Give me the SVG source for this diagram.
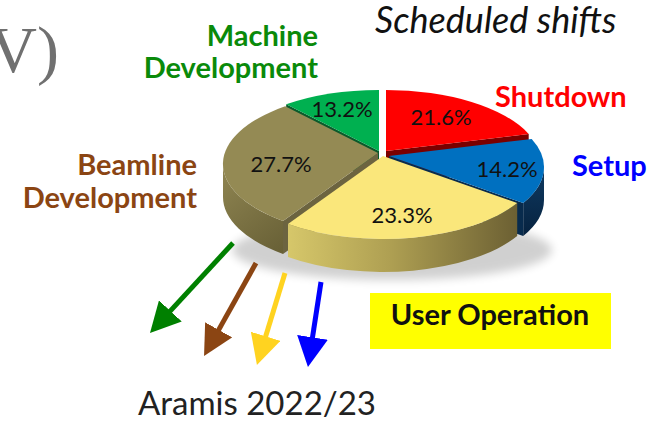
<svg xmlns="http://www.w3.org/2000/svg" width="652" height="424" viewBox="0 0 652 424">
  <defs>
    <style>
      .pct { font-family: Lato, "Liberation Sans", sans-serif; font-size: 22px; fill: #111; text-anchor: middle; }
      .lbl { font-family: Lato, "Liberation Sans", sans-serif; font-weight: bold; font-size: 29px; }
      .arrow { fill: none; stroke-width: 5; stroke-linecap: butt; }
    </style>
    <linearGradient id="yellowWall" x1="288" y1="0" x2="517" y2="0" gradientUnits="userSpaceOnUse">
      <stop offset="0" stop-color="#D6C76A"/>
      <stop offset="0.45" stop-color="#AE9F52"/>
      <stop offset="1" stop-color="#6C6033"/>
    </linearGradient>
    <linearGradient id="brownWall" x1="223" y1="170" x2="285" y2="250" gradientUnits="userSpaceOnUse">
      <stop offset="0" stop-color="#8E8451"/>
      <stop offset="1" stop-color="#686036"/>
    </linearGradient>
    <linearGradient id="blueWall" x1="0" y1="167" x2="0" y2="236" gradientUnits="userSpaceOnUse">
      <stop offset="0" stop-color="#0F3A62"/>
      <stop offset="1" stop-color="#06223F"/>
    </linearGradient>
    <filter id="soft" x="-20%" y="-50%" width="140%" height="200%">
      <feGaussianBlur stdDeviation="5"/>
    </filter>
    <marker id="headGreen" viewBox="0 0 6 6.2" refX="0.4" refY="3.1" markerWidth="6" markerHeight="6.2" orient="auto">
      <path d="M0,0 L6,3.1 L0,6.2 Z" fill="#008000"/>
    </marker>
    <marker id="headBrown" viewBox="0 0 6 6.2" refX="0.4" refY="3.1" markerWidth="6" markerHeight="6.2" orient="auto">
      <path d="M0,0 L6,3.1 L0,6.2 Z" fill="#8B4513"/>
    </marker>
    <marker id="headYellow" viewBox="0 0 6 6.2" refX="0.4" refY="3.1" markerWidth="6" markerHeight="6.2" orient="auto">
      <path d="M0,0 L6,3.1 L0,6.2 Z" fill="#FFD320"/>
    </marker>
    <marker id="headBlue" viewBox="0 0 6 6.2" refX="0.4" refY="3.1" markerWidth="6" markerHeight="6.2" orient="auto">
      <path d="M0,0 L6,3.1 L0,6.2 Z" fill="#0000FF"/>
    </marker>
  </defs>

  <rect width="652" height="424" fill="#FFFFFF"/>

  <!-- partial heading at the left edge -->
  <text x="59" y="72" font-family="Liberation Serif, serif" font-size="66" fill="#707070" text-anchor="end">V)</text>

  <text x="375" y="33" font-family="Lato, Liberation Sans, sans-serif" font-style="italic" font-size="36" fill="#111">Scheduled shifts</text>

  <!-- soft shadow under the pie -->
  <ellipse cx="392" cy="250" rx="160" ry="30" fill="#000" opacity="0.18" filter="url(#soft)"/>

  <!-- pie: ellipse centre (383,164), rx 155, ry 72, depth 33; each slice shifted outward -->
  <g id="slice-shutdown">
    <polygon points="386,151 528.7,133.9 528.7,166.9 386,184" fill="#7A0000"/>
    <path d="M386,151 L386,90 A155,72 0 0 1 528.7,133.9 Z" fill="#FF0000"/>
    <text class="pct" x="441" y="125">21.6%</text>
  </g>

  <g id="slice-machine">
    <polygon points="379,151 286.2,104.3 286.2,137.3 379,184" fill="#0B5A2B"/>
    <path d="M379,151 L286.2,104.3 A155,72 0 0 1 379,90 Z" fill="#00B050"/>
    <text class="pct" x="342" y="117">13.2%</text>
  </g>

  <g id="slice-setup">
    <polygon points="389,156 523.2,203 523.2,236 389,189" fill="#082B4D"/>
    <path d="M544,167 A155,72 0 0 1 523.2,203 L523.2,236 A155,72 0 0 0 544,200 Z" fill="url(#blueWall)"/>
    <path d="M389,156 L531.7,138.9 A155,72 0 0 1 523.2,203 Z" fill="#0070C0"/>
    <text class="pct" x="507" y="177">14.2%</text>
  </g>

  <g id="slice-beamline">
    <polygon points="378,153 283,220.9 283,253.9 378,186" fill="#6C6440"/>
    <path d="M283,220.9 A155,72 0 0 1 223,164 L223,197 A155,72 0 0 0 283,253.9 Z" fill="url(#brownWall)"/>
    <path d="M378,153 L285.2,106.3 A155,72 0 0 0 283,220.9 Z" fill="#948A54"/>
    <text class="pct" x="281" y="172">27.7%</text>
  </g>

  <g id="slice-user">
    <path d="M517.2,203 A155,72 0 0 1 288,223.9 L288,256.9 A155,72 0 0 0 517.2,236 Z" fill="url(#yellowWall)"/>
    <path d="M383,156 L517.2,203 A155,72 0 0 1 288,223.9 Z" fill="#FAE77B"/>
    <text class="pct" x="402" y="223">23.3%</text>
  </g>

  <!-- category labels -->
  <g id="label-machine" class="lbl" fill="#0A8A0A" text-anchor="end">
    <text x="318" y="46">Machine</text>
    <text x="318" y="78">Development</text>
  </g>
  <g id="label-beamline" class="lbl" fill="#8B4513" text-anchor="end">
    <text x="197" y="175">Beamline</text>
    <text x="197" y="208">Development</text>
  </g>
  <g id="label-shutdown" class="lbl" fill="#FF0000">
    <text x="495" y="107">Shutdown</text>
  </g>
  <g id="label-setup" class="lbl" fill="#0000FF">
    <text x="572" y="176">Setup</text>
  </g>
  <g id="label-user">
    <rect x="370" y="293" width="241" height="56" fill="#FFFF00"/>
    <text class="lbl" x="490" y="325" fill="#111" text-anchor="middle">User Operation</text>
  </g>

  <!-- arrows -->
  <g id="connectors">
    <line class="arrow" x1="233" y1="243" x2="169" y2="312.4" stroke="#008000" marker-end="url(#headGreen)"/>
    <line class="arrow" x1="256" y1="263" x2="217.7" y2="331.6" stroke="#8B4513" marker-end="url(#headBrown)"/>
    <line class="arrow" x1="285" y1="273" x2="265.1" y2="338.2" stroke="#FFD320" marker-end="url(#headYellow)"/>
    <line class="arrow" x1="321" y1="282" x2="312.2" y2="339.3" stroke="#0000FF" marker-end="url(#headBlue)"/>
  </g>

  <text x="138" y="415" font-family="Lato, Liberation Sans, sans-serif" font-size="33" fill="#222">Aramis 2022/23</text>
</svg>
